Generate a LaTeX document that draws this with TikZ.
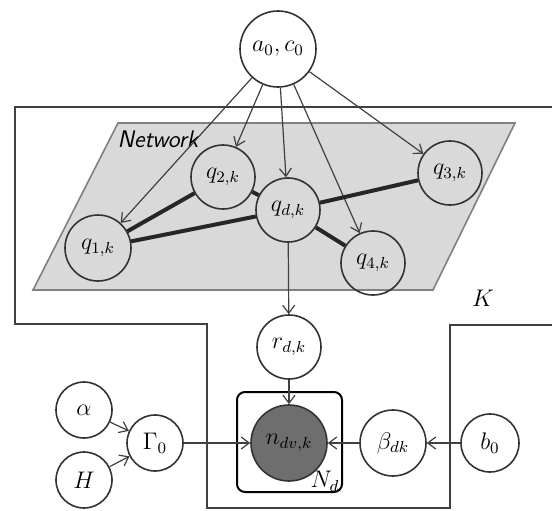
\documentclass[tikz,border=0pt]{standalone}
\usepackage{amsmath,amssymb,tikz}
\usetikzlibrary{positioning}
\usetikzlibrary{arrows.meta, positioning}
\definecolor{planegray}{RGB}{217,217,217}
\definecolor{obsgray}{RGB}{110,110,110}
\tikzstyle{var} = [circle, draw=black!80, line width=0.8pt, minimum size=32pt, inner sep=1pt, font=\large]
\tikzstyle{obs} = [var, fill=obsgray, minimum size=38pt]
\tikzstyle{arrow} = [->, >={Straight Barb[length=4pt,width=6pt]}, line width=0.6pt, draw=black!75]
\tikzstyle{link} = [line width=2pt, draw=black!85]
\tikzstyle{plate} = [line width=1pt, draw=black!75]

\begin{document}
\begin{tikzpicture}[x=0.5pt, y=-0.5pt]
\useasboundingbox (0,0) rectangle (552,510);

% network plane and plates
\draw [fill=planegray, draw=black!50, line width=0.8pt] (118,123) -- (515,123) -- (433,290) -- (33,290) -- cycle;
\node (net) at (158,139) {\large\sffamily\itshape Network};
\draw [plate] (552,107) -- (15,107) -- (15,324) -- (207,324) -- (207,508) -- (450,508) -- (450,325) -- (552,325);
\node (K) at (483,298) {\large $K$};
\node (box) [draw, rounded corners=4pt, line width=1pt, minimum width=52.5pt, minimum height=50pt] at (289.5,442) {};
\node (Nd) at (325,481) {\large $N_d$};

% nodes
\node (a0) [var, minimum size=38pt] at (278,49) {$a_0,c_0$};
\node (q1) [var, minimum size=33pt] at (98,248) {$q_{1,k}$};
\node (q2) [var] at (223,177) {$q_{2,k}$};
\node (qd) [var] at (288,210) {$q_{d,k}$};
\node (q3) [var] at (450,173) {$q_{3,k}$};
\node (q4) [var] at (373,263) {$q_{4,k}$};
\node (r) [var] at (289,347) {$r_{d,k}$};
\node (n) [obs] at (289,443) {$n_{dv,k}$};
\node (beta) [var, minimum size=33pt] at (393,443) {$\beta_{dk}$};
\node (b0) [var, minimum size=29pt, right of=beta, node distance=48.5pt] {$b_0$};
\node (gamma) [var, minimum size=28pt] at (155,443) {$\Gamma_0$};
\node (alpha) [var, minimum size=28pt] at (84,410) {$\alpha$};
\node (H) [var, minimum size=28pt, below of=alpha, node distance=35pt] {$H$};

% edges
\draw [arrow] (a0) -- (q1);
\draw [arrow] (a0) -- (q2);
\draw [arrow] (a0) -- (qd);
\draw [arrow] (a0) -- (q4);
\draw [arrow] (a0) -- (q3);
\draw [link] (q1) -- (q2);
\draw [link] (q1) -- (qd);
\draw [link] (q2) -- (qd);
\draw [link] (qd) -- (q3);
\draw [link] (qd) -- (q4);
\draw [arrow] (qd) -- (r);
\draw [arrow] (r) -- (n);
\draw [arrow] (gamma) -- (n);
\draw [arrow] (beta) -- (n);
\draw [arrow] (b0) -- (beta);
\draw [arrow] (alpha) -- (gamma);
\draw [arrow] (H) -- (gamma);

\end{tikzpicture}
\end{document}
